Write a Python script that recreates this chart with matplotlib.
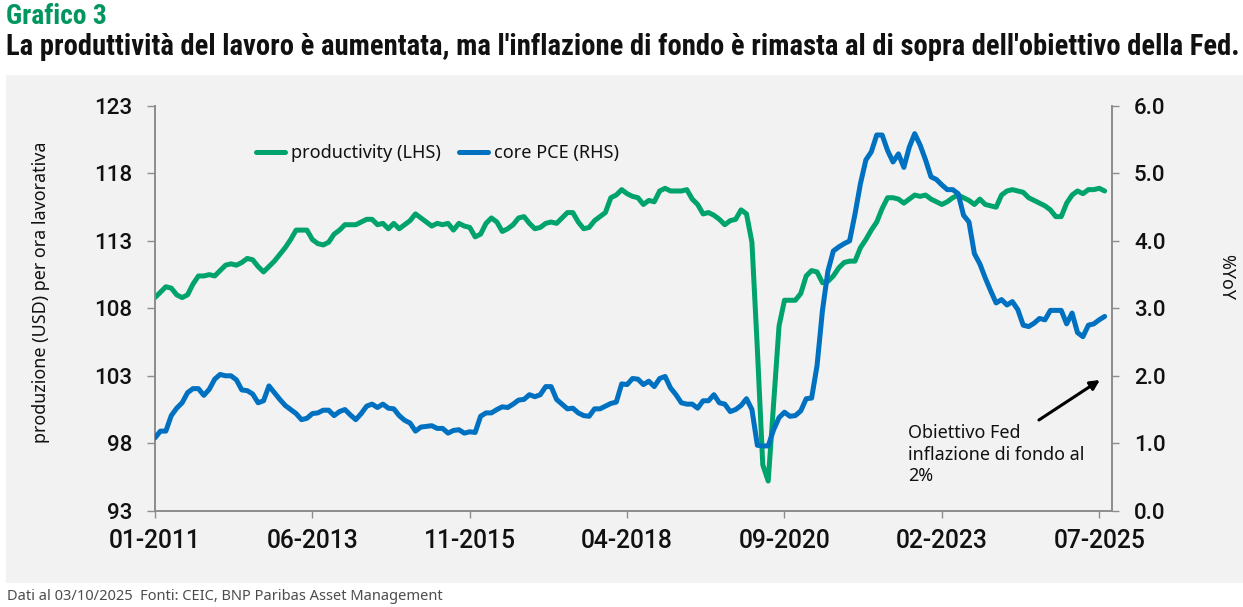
import matplotlib
matplotlib.use("Agg")
import matplotlib.pyplot as plt
from matplotlib import font_manager
from matplotlib.patches import Rectangle
import numpy as np

# ---------------- data ----------------
start_month = "2011-01"
productivity = [
    108.8, 109.2, 109.6, 109.5, 109.0, 108.8, 109.0, 109.8, 110.4, 110.4,
    110.5, 110.4, 110.8, 111.2, 111.3, 111.2, 111.4, 111.7, 111.6, 111.1,
    110.7, 111.1, 111.5, 112.0, 112.5, 113.1, 113.8, 113.8, 113.8, 113.1,
    112.8, 112.7, 112.9, 113.5, 113.8, 114.2, 114.2, 114.2, 114.4, 114.6,
    114.6, 114.2, 114.3, 113.9, 114.3, 113.9, 114.2, 114.5, 115.0, 114.7,
    114.4, 114.1, 114.3, 114.2, 114.3, 113.8, 114.3, 114.1, 114.0, 113.3,
    113.5, 114.3, 114.7, 114.4, 113.7, 113.9, 114.2, 114.7, 114.8, 114.3,
    113.9, 114.0, 114.3, 114.4, 114.3, 114.7, 115.1, 115.1, 114.4, 113.9,
    114.0, 114.5, 114.8, 115.1, 116.2, 116.4, 116.8, 116.5, 116.3, 116.2,
    115.7, 116.0, 115.9, 116.7, 116.9, 116.7, 116.7, 116.7, 116.8, 116.1,
    115.7, 115.0, 115.1, 114.9, 114.6, 114.2, 114.5, 114.6, 115.3, 115.0,
    112.9, 105.0, 96.4, 95.2, 100.9, 106.7, 108.6, 108.6, 108.6, 109.1,
    110.4, 110.8, 110.7, 109.9, 110.0, 110.4, 111.0, 111.4, 111.5, 111.5,
    112.5, 113.1, 113.8, 114.4, 115.4, 116.2, 116.2, 116.1, 115.8, 116.1,
    116.4, 116.3, 116.4, 116.1, 115.9, 115.7, 115.9, 116.2, 116.4, 116.2,
    116.0, 115.7, 116.1, 115.7, 115.6, 115.5, 116.4, 116.7, 116.8, 116.7,
    116.6, 116.2, 116.0, 115.8, 115.6, 115.3, 114.8, 114.8, 115.8, 116.4,
    116.7, 116.5, 116.8, 116.8, 116.9, 116.7,
]
core_pce = [
    1.08, 1.18, 1.18, 1.41, 1.52, 1.60, 1.75, 1.81, 1.81, 1.71,
    1.80, 1.95, 2.02, 2.00, 2.00, 1.94, 1.79, 1.78, 1.73, 1.60,
    1.63, 1.85, 1.75, 1.65, 1.56, 1.50, 1.44, 1.35, 1.37, 1.44,
    1.45, 1.49, 1.49, 1.41, 1.47, 1.50, 1.42, 1.35, 1.44, 1.55,
    1.58, 1.53, 1.58, 1.52, 1.51, 1.41, 1.34, 1.30, 1.18, 1.24,
    1.25, 1.26, 1.22, 1.22, 1.15, 1.19, 1.20, 1.15, 1.17, 1.16,
    1.40, 1.45, 1.45, 1.50, 1.54, 1.53, 1.58, 1.64, 1.65, 1.72,
    1.69, 1.72, 1.84, 1.84, 1.65, 1.58, 1.51, 1.52, 1.45, 1.41,
    1.40, 1.51, 1.51, 1.55, 1.59, 1.61, 1.88, 1.87, 1.96, 1.95,
    1.87, 1.92, 1.84, 1.96, 1.99, 1.82, 1.72, 1.60, 1.58, 1.58,
    1.52, 1.63, 1.63, 1.72, 1.60, 1.58, 1.47, 1.50, 1.56, 1.66,
    1.50, 0.97, 0.96, 0.96, 1.20, 1.38, 1.46, 1.40, 1.41, 1.48,
    1.66, 1.67, 2.15, 2.97, 3.55, 3.85, 3.91, 3.96, 4.00, 4.40,
    4.85, 5.20, 5.32, 5.57, 5.57, 5.34, 5.17, 5.29, 5.09, 5.39,
    5.59, 5.42, 5.20, 4.95, 4.91, 4.83, 4.76, 4.76, 4.70, 4.38,
    4.28, 3.81, 3.66, 3.45, 3.26, 3.08, 3.13, 3.05, 3.10, 2.98,
    2.75, 2.73, 2.78, 2.85, 2.83, 2.97, 2.97, 2.97, 2.77, 2.93,
    2.64, 2.58, 2.75, 2.77, 2.83, 2.88,
]
x_tick_labels = ["01-2011", "06-2013", "11-2015", "04-2018", "09-2020", "02-2023", "07-2025"]
left_ticks = [93, 98, 103, 108, 113, 118, 123]
right_ticks = [0.0, 1.0, 2.0, 3.0, 4.0, 5.0, 6.0]

title_small = "Grafico 3"
title_main = "La produttività del lavoro è aumentata, ma l'inflazione di fondo è rimasta al di sopra dell'obiettivo della Fed."
footer = "Dati al 03/10/2025  Fonti: CEIC, BNP Paribas Asset Management"
left_label = "produzione (USD) per ora lavorativa"
right_label = "%YoY"
legend_labels = ["productivity (LHS)", "core PCE (RHS)"]
note_text = "Obiettivo Fed\ninflazione di fondo al\n2%"

# ---------------- style ----------------
GREEN = "#00A36C"
BLUE = "#0070C0"
TITLE_GREEN = "#00965E"
PANEL = "#F2F2F2"
SPINE = "#8C8C8C"

names = {f.name for f in font_manager.fontManager.ttflist}
def pick(*cands):
    for c in cands:
        if c in names:
            return c
    return "DejaVu Sans"
TITLE_FONT = pick("Roboto Condensed", "Liberation Sans Narrow", "Roboto")
BODY_FONT = pick("Noto Sans", "Open Sans", "DejaVu Sans")
TICK_FONT = pick("Roboto", "DejaVu Sans")

W, H = 1243, 607
fig = plt.figure(figsize=(W / 100, H / 100), dpi=100)
fig.patch.set_facecolor("white")
renderer = fig.canvas.get_renderer()

def fx(px):
    return px / W
def fy(py):
    return 1 - py / H

def fit(t, target_w):
    w = t.get_window_extent(renderer).width
    t.set_fontsize(t.get_fontsize() * target_w / w)

def fitted_size(text, target_w, **kw):
    t = fig.text(0, 0, text, fontsize=10, **kw)
    w = t.get_window_extent(renderer).width
    t.remove()
    return 10 * target_w / w

# gray panel (behind everything)
panel = Rectangle((fx(6), fy(583)), fx(1243) - fx(6), fy(75) - fy(583),
                  transform=fig.transFigure, facecolor=PANEL, edgecolor="none", zorder=-10)
fig.add_artist(panel)

# titles
t1 = fig.text(fx(6), fy(16), title_small, color=TITLE_GREEN, fontsize=16, fontweight="bold",
              family=TITLE_FONT, ha="left", va="center")
fit(t1, 101)
t2 = fig.text(fx(6), fy(47), title_main, color="#111111", fontsize=16, fontweight="bold",
              family=TITLE_FONT, ha="left", va="center")
fit(t2, 1231)
t3 = fig.text(fx(7), fy(597), footer, color="#4D4D4D", fontsize=10, family=BODY_FONT,
              ha="left", va="center")
fit(t3, 436)

# axes
x0, x1, ytop, ybot = 155, 1111.7, 106, 510.7
ax = fig.add_axes([fx(x0), fy(ybot), fx(x1) - fx(x0), fy(ytop) - fy(ybot)], zorder=2)
ax.set_facecolor("none")
ax.patch.set_alpha(0)
ax2 = ax.twinx()
ax2.set_facecolor("none")
ax2.patch.set_alpha(0)

months = np.arange(len(productivity))
ax.plot(months, productivity, color=GREEN, lw=3.6, solid_joinstyle="round",
        solid_capstyle="round", zorder=3)
ax2.plot(months, core_pce, color=BLUE, lw=3.6, solid_joinstyle="round",
         solid_capstyle="round", zorder=3)

ax.set_xlim(0, 176.3)
ax.set_ylim(93, 123)
ax2.set_ylim(0, 6)

tick_pos = [29 * i for i in range(len(x_tick_labels))]
ax.set_xticks(tick_pos)
xs = fitted_size("06-2013", 92, family=TICK_FONT, fontweight="medium")
ax.set_xticklabels(x_tick_labels, fontsize=xs, family=TICK_FONT, fontweight="medium", color="#111111")
ax.set_yticks(left_ticks)
ys = fitted_size("123", 38, family=TICK_FONT, fontweight="medium")
ax.set_yticklabels([str(v) for v in left_ticks], fontsize=ys, family=TICK_FONT,
                   fontweight="medium", color="#111111")
ax2.set_yticks(right_ticks)
ax2.set_yticklabels([f"{v:.1f}" for v in right_ticks], fontsize=ys, family=TICK_FONT,
                    fontweight="medium", color="#111111")

ax.tick_params(axis="x", direction="out", length=5, width=1, color=SPINE, pad=8.5)
ax.tick_params(axis="y", direction="out", length=5.8, width=1, color=SPINE, pad=10.5)
ax2.tick_params(axis="y", direction="out", length=5, width=1, color=SPINE, pad=11)

for a in (ax, ax2):
    a.spines["top"].set_visible(False)
    for s in ("left", "right", "bottom"):
        a.spines[s].set_color(SPINE)
        a.spines[s].set_linewidth(1.2)

# axis labels
yl = fig.text(fx(41), fy(292), left_label, rotation=90, ha="center", va="center",
              family=BODY_FONT, fontsize=12, color="#111111")
fit_len = yl.get_window_extent(renderer).height
yl.set_fontsize(12 * 300 / fit_len)
rl = fig.text(fx(1226), fy(277), right_label, rotation=-90, ha="center", va="center",
              family=BODY_FONT, fontsize=yl.get_fontsize(), color="#111111")

# legend
ls = fitted_size(legend_labels[0], 150, family=BODY_FONT)
fs_px = ls * 100 / 72
h1, = ax.plot([], [], color=GREEN, lw=3.6, solid_capstyle="round")
h2, = ax.plot([], [], color=BLUE, lw=3.6, solid_capstyle="round")
leg = fig.legend([h1, h2], legend_labels, loc="center left",
                 bbox_to_anchor=(fx(256), fy(153)), bbox_transform=fig.transFigure,
                 ncol=2, frameon=False, borderpad=0, borderaxespad=0,
                 handlelength=29 / fs_px, handletextpad=6 / fs_px, columnspacing=18 / fs_px,
                 prop={"family": BODY_FONT, "size": ls})
for t in leg.get_texts():
    t.set_color("#111111")

# annotation
ns = fitted_size("inflazione di fondo al", 176, family=BODY_FONT)
ax2.text((908 - x0) / 5.427, 6 - (424 - ytop) / 67.45, note_text, ha="left", va="top",
         family=BODY_FONT, fontsize=ns, color="#111111", linespacing=1.25, zorder=5)
ax2.annotate("", xy=((1100 - x0) / 5.427, 6 - (380 - ytop) / 67.45),
             xytext=((1039 - x0) / 5.427, 6 - (420 - ytop) / 67.45),
             arrowprops=dict(arrowstyle="-|>", color="black", lw=2.2, mutation_scale=14,
                             shrinkA=0, shrinkB=0), zorder=5)

fig.savefig("out.png", dpi=100, facecolor=fig.get_facecolor())
